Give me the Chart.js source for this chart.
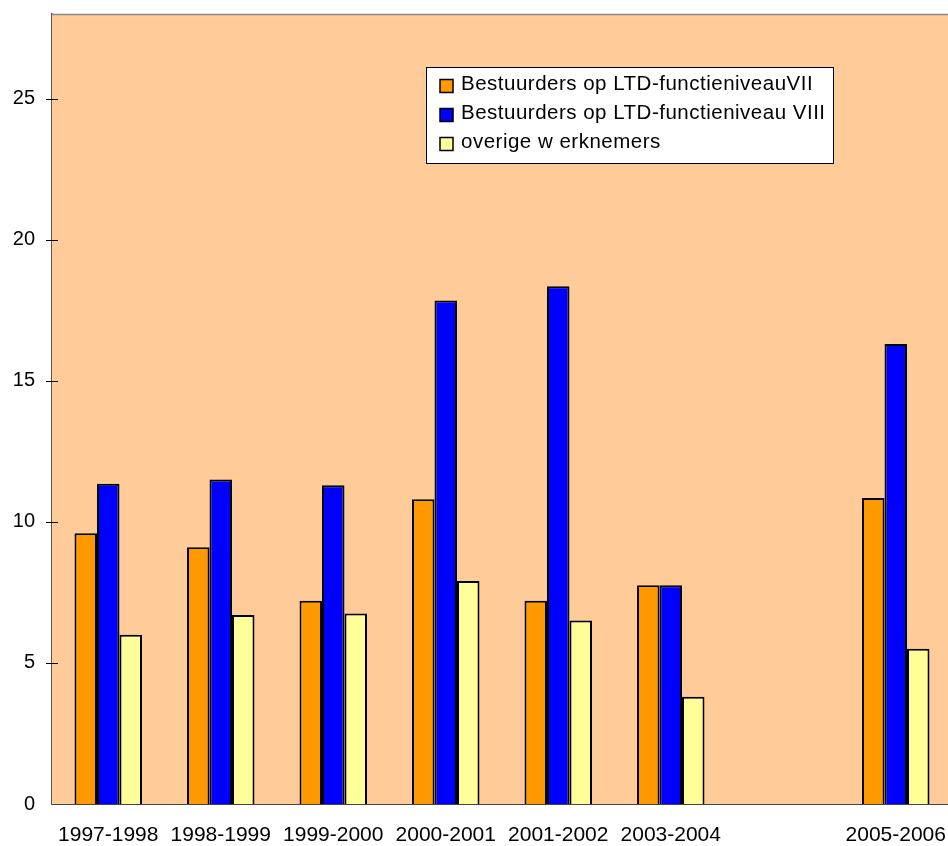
<!DOCTYPE html>
<html>
<head>
<meta charset="utf-8">
<title>Bestuurders</title>
<script src="https://cdn.jsdelivr.net/npm/chart.js@4.4.1/dist/chart.umd.min.js"></script>
<style>
  html, body { margin: 0; padding: 0; overflow: hidden; background: #fff; }
  canvas { display: block; }
</style>
</head>
<body>
<canvas id="barChart" width="952" height="846"></canvas>
<script>
// schooljaren (de lege kolom is 2004-2005 zonder gegevens)
const years = ['1997-1998', '1998-1999', '1999-2000', '2000-2001', '2001-2002', '2003-2004', '', '2005-2006'];

const levelVII = [9.6, 9.1, 7.2, 10.8, 7.2, 7.75, null, 10.85];
const levelVIII = [11.35, 11.5, 11.3, 17.85, 18.35, 7.75, null, 16.3];
const otherStaff = [6.0, 6.7, 6.75, 7.9, 6.5, 3.8, null, 5.5];

const seriesNames = [
    'Bestuurders op LTD-functieniveauVII',
    'Bestuurders op LTD-functieniveau VIII',
    'overige w erknemers'
];
const seriesColors = ['#FF9900', '#0000FF', '#FFFF99'];

const yTicks = [0, 5, 10, 15, 20, 25];
const yMax = 28;

const FONT = "'Liberation Sans', Arial, sans-serif";

// plotvlak, streepjes op de y-as en de legenda
const plotDecor = {
    id: 'plotDecor',
    beforeDatasetsDraw(chart) {
        const { ctx, chartArea: a } = chart;
        ctx.save();
        ctx.fillStyle = '#FFCC99';
        ctx.fillRect(a.left, a.top, a.right - a.left, a.bottom - a.top);
        ctx.strokeStyle = '#8a8a8a';
        ctx.lineWidth = 1.5;
        ctx.beginPath();
        ctx.moveTo(a.left, a.top + 0.5);
        ctx.lineTo(a.right, a.top + 0.5);
        ctx.stroke();
        ctx.restore();
    },
    afterDraw(chart) {
        const { ctx, chartArea: a } = chart;
        const y = chart.scales.y;
        ctx.save();

        ctx.strokeStyle = '#000';
        ctx.lineWidth = 1;
        yTicks.forEach(v => {
            if (v === 0) return;
            const py = Math.round(y.getPixelForValue(v)) + 0.5;
            ctx.beginPath();
            ctx.moveTo(a.left - 6, py);
            ctx.lineTo(a.left + 6, py);
            ctx.stroke();
        });

        // legenda
        const bx = 426, by = 67, bw = 407, bh = 96;
        ctx.fillStyle = '#fff';
        ctx.fillRect(bx, by, bw, bh);
        ctx.strokeStyle = '#000';
        ctx.lineWidth = 1;
        ctx.strokeRect(bx + 0.5, by + 0.5, bw, bh);

        ctx.font = '20.5px ' + FONT;
        ctx.letterSpacing = '0.5px';
        ctx.textBaseline = 'alphabetic';
        ctx.textAlign = 'left';
        chart.data.datasets.forEach((ds, i) => {
            const rowY = 86 + i * 29;
            ctx.fillStyle = ds.backgroundColor;
            ctx.fillRect(440, rowY - 6.5, 13, 13);
            ctx.lineWidth = 1.5;
            ctx.strokeStyle = '#000';
            ctx.strokeRect(440, rowY - 6.5, 13, 13);
            ctx.fillStyle = '#000';
            ctx.fillText(ds.label, 461, rowY + 3.5);
        });
        ctx.restore();
    }
};

function setBarConfig() {
    let config = {
        type: 'bar',
        data: {
            labels: years,
            datasets: [
                { label: seriesNames[0], data: levelVII, backgroundColor: seriesColors[0] },
                { label: seriesNames[1], data: levelVIII, backgroundColor: seriesColors[1] },
                { label: seriesNames[2], data: otherStaff, backgroundColor: seriesColors[2] }
            ].map(ds => Object.assign(ds, {
                borderColor: '#000',
                borderWidth: 2,
                categoryPercentage: 0.6,
                barPercentage: 1.0
            }))
        },
        options: {
            responsive: false,
            animation: false,
            layout: { padding: { top: 14, left: 0, right: 0, bottom: 0 } },
            plugins: {
                legend: { display: false },
                tooltip: { enabled: false }
            },
            scales: {
                x: {
                    grid: { display: false, drawTicks: false },
                    border: { display: true, color: '#444', width: 2 },
                    ticks: {
                        color: '#000',
                        font: { family: FONT, size: 21 },
                        padding: 19,
                        maxRotation: 0,
                        autoSkip: false
                    },
                    afterFit(scale) {
                        scale.height = 42;
                        scale.paddingLeft = 0;
                        scale.paddingRight = 0;
                    }
                },
                y: {
                    min: 0,
                    max: yMax,
                    grid: { display: false, drawTicks: false },
                    border: { display: true, color: '#555', width: 1.5 },
                    ticks: {
                        color: '#000',
                        font: { family: FONT, size: 20 },
                        padding: 17
                    },
                    afterBuildTicks(scale) {
                        scale.ticks = yTicks.map(v => ({ value: v }));
                    },
                    afterFit(scale) {
                        scale.width = 52;
                        scale.paddingTop = 0;
                        scale.paddingBottom = 0;
                    }
                }
            }
        },
        plugins: [plotDecor]
    };
    return config;
}

const chart = new Chart(document.getElementById('barChart'), setBarConfig());
</script>
</body>
</html>
